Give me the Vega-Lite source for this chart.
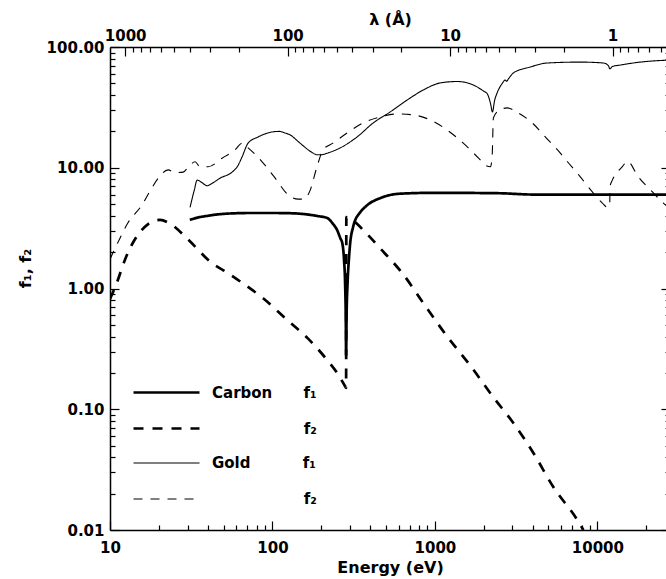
{
  "$schema": "https://vega.github.io/schema/vega-lite/v6.json",
  "autosize": {"type": "none"},
  "padding": {"left": 110, "top": 47, "right": 0, "bottom": 49},
  "width": 560,
  "height": 483,
  "background": "white",
  "datasets": {
    "curves": [
      {"series": "Carbon f1", "energy": 31, "f": 3.7},
      {"series": "Carbon f1", "energy": 35, "f": 3.88},
      {"series": "Carbon f1", "energy": 40, "f": 4.0},
      {"series": "Carbon f1", "energy": 44, "f": 4.08},
      {"series": "Carbon f1", "energy": 50, "f": 4.15},
      {"series": "Carbon f1", "energy": 60, "f": 4.2},
      {"series": "Carbon f1", "energy": 73, "f": 4.22},
      {"series": "Carbon f1", "energy": 100, "f": 4.22},
      {"series": "Carbon f1", "energy": 130, "f": 4.2},
      {"series": "Carbon f1", "energy": 160, "f": 4.12},
      {"series": "Carbon f1", "energy": 190, "f": 3.98},
      {"series": "Carbon f1", "energy": 217, "f": 3.84},
      {"series": "Carbon f1", "energy": 235, "f": 3.45},
      {"series": "Carbon f1", "energy": 250, "f": 3.05},
      {"series": "Carbon f1", "energy": 262, "f": 2.6},
      {"series": "Carbon f1", "energy": 269, "f": 2.38},
      {"series": "Carbon f1", "energy": 276, "f": 1.7},
      {"series": "Carbon f1", "energy": 280, "f": 1.11},
      {"series": "Carbon f1", "energy": 283, "f": 0.5},
      {"series": "Carbon f1", "energy": 284, "f": 0.28},
      {"series": "Carbon f1", "energy": 286, "f": 0.6},
      {"series": "Carbon f1", "energy": 290, "f": 1.11},
      {"series": "Carbon f1", "energy": 296, "f": 1.8},
      {"series": "Carbon f1", "energy": 301, "f": 2.38},
      {"series": "Carbon f1", "energy": 313, "f": 3.2},
      {"series": "Carbon f1", "energy": 325, "f": 3.75},
      {"series": "Carbon f1", "energy": 337, "f": 4.06},
      {"series": "Carbon f1", "energy": 383, "f": 4.9},
      {"series": "Carbon f1", "energy": 460, "f": 5.6},
      {"series": "Carbon f1", "energy": 612, "f": 6.1},
      {"series": "Carbon f1", "energy": 1000, "f": 6.2},
      {"series": "Carbon f1", "energy": 2500, "f": 6.15},
      {"series": "Carbon f1", "energy": 4000, "f": 6.0},
      {"series": "Carbon f1", "energy": 10000, "f": 6.0},
      {"series": "Carbon f1", "energy": 28000, "f": 6.0},

      {"series": "Carbon f2", "energy": 10, "f": 0.82},
      {"series": "Carbon f2", "energy": 11, "f": 1.11},
      {"series": "Carbon f2", "energy": 12.4, "f": 1.75},
      {"series": "Carbon f2", "energy": 14.9, "f": 2.8},
      {"series": "Carbon f2", "energy": 17.1, "f": 3.4},
      {"series": "Carbon f2", "energy": 20.3, "f": 3.7},
      {"series": "Carbon f2", "energy": 23.4, "f": 3.45},
      {"series": "Carbon f2", "energy": 30.2, "f": 2.55},
      {"series": "Carbon f2", "energy": 42.5, "f": 1.62},
      {"series": "Carbon f2", "energy": 53.3, "f": 1.34},
      {"series": "Carbon f2", "energy": 67.9, "f": 1.07},
      {"series": "Carbon f2", "energy": 87.6, "f": 0.83},
      {"series": "Carbon f2", "energy": 123, "f": 0.55},
      {"series": "Carbon f2", "energy": 164, "f": 0.39},
      {"series": "Carbon f2", "energy": 217, "f": 0.256},
      {"series": "Carbon f2", "energy": 250, "f": 0.2},
      {"series": "Carbon f2", "energy": 280, "f": 0.155},
      {"series": "Carbon f2", "energy": 284, "f": 0.15},
      {"series": "Carbon f2", "energy": 285, "f": 3.9},
      {"series": "Carbon f2", "energy": 301, "f": 3.8},
      {"series": "Carbon f2", "energy": 330, "f": 3.45},
      {"series": "Carbon f2", "energy": 362, "f": 3.05},
      {"series": "Carbon f2", "energy": 400, "f": 2.65},
      {"series": "Carbon f2", "energy": 460, "f": 2.15},
      {"series": "Carbon f2", "energy": 531, "f": 1.75},
      {"series": "Carbon f2", "energy": 630, "f": 1.34},
      {"series": "Carbon f2", "energy": 847, "f": 0.76},
      {"series": "Carbon f2", "energy": 1191, "f": 0.4},
      {"series": "Carbon f2", "energy": 1651, "f": 0.23},
      {"series": "Carbon f2", "energy": 2287, "f": 0.126},
      {"series": "Carbon f2", "energy": 3040, "f": 0.077},
      {"series": "Carbon f2", "energy": 4040, "f": 0.0434},
      {"series": "Carbon f2", "energy": 5360, "f": 0.0227},
      {"series": "Carbon f2", "energy": 7530, "f": 0.0121},
      {"series": "Carbon f2", "energy": 8200, "f": 0.01},

      {"series": "Gold f1", "energy": 31.1, "f": 4.7},
      {"series": "Gold f1", "energy": 33, "f": 6.5},
      {"series": "Gold f1", "energy": 34.4, "f": 7.9},
      {"series": "Gold f1", "energy": 36.5, "f": 7.6},
      {"series": "Gold f1", "energy": 39.6, "f": 7.1},
      {"series": "Gold f1", "energy": 43, "f": 7.5},
      {"series": "Gold f1", "energy": 47.6, "f": 8.2},
      {"series": "Gold f1", "energy": 56.4, "f": 9.2},
      {"series": "Gold f1", "energy": 61, "f": 10.3},
      {"series": "Gold f1", "energy": 65, "f": 12.3},
      {"series": "Gold f1", "energy": 70.8, "f": 16},
      {"series": "Gold f1", "energy": 81.6, "f": 18},
      {"series": "Gold f1", "energy": 100, "f": 19.8},
      {"series": "Gold f1", "energy": 110, "f": 20},
      {"series": "Gold f1", "energy": 119.7, "f": 19.4},
      {"series": "Gold f1", "energy": 128.5, "f": 18.7},
      {"series": "Gold f1", "energy": 144, "f": 16.5},
      {"series": "Gold f1", "energy": 154.6, "f": 15.2},
      {"series": "Gold f1", "energy": 175, "f": 13.4},
      {"series": "Gold f1", "energy": 188, "f": 12.8},
      {"series": "Gold f1", "energy": 200, "f": 12.8},
      {"series": "Gold f1", "energy": 217, "f": 13.2},
      {"series": "Gold f1", "energy": 261, "f": 14.6},
      {"series": "Gold f1", "energy": 332, "f": 18},
      {"series": "Gold f1", "energy": 417, "f": 23.5},
      {"series": "Gold f1", "energy": 531, "f": 29},
      {"series": "Gold f1", "energy": 675, "f": 36.4},
      {"series": "Gold f1", "energy": 847, "f": 44},
      {"series": "Gold f1", "energy": 1079, "f": 50.4},
      {"series": "Gold f1", "energy": 1373, "f": 51.8},
      {"series": "Gold f1", "energy": 1722, "f": 48.5},
      {"series": "Gold f1", "energy": 2000, "f": 43},
      {"series": "Gold f1", "energy": 2100, "f": 41},
      {"series": "Gold f1", "energy": 2200, "f": 34},
      {"series": "Gold f1", "energy": 2260, "f": 29},
      {"series": "Gold f1", "energy": 2330, "f": 36},
      {"series": "Gold f1", "energy": 2421, "f": 42},
      {"series": "Gold f1", "energy": 2600, "f": 50},
      {"series": "Gold f1", "energy": 2711, "f": 53.3},
      {"series": "Gold f1", "energy": 2760, "f": 52},
      {"series": "Gold f1", "energy": 2850, "f": 55},
      {"series": "Gold f1", "energy": 3038, "f": 60.9},
      {"series": "Gold f1", "energy": 3864, "f": 68.3},
      {"series": "Gold f1", "energy": 4920, "f": 73.7},
      {"series": "Gold f1", "energy": 7853, "f": 75},
      {"series": "Gold f1", "energy": 10890, "f": 73.7},
      {"series": "Gold f1", "energy": 11700, "f": 70},
      {"series": "Gold f1", "energy": 11919, "f": 66},
      {"series": "Gold f1", "energy": 12400, "f": 69},
      {"series": "Gold f1", "energy": 13860, "f": 70.9},
      {"series": "Gold f1", "energy": 18400, "f": 75},
      {"series": "Gold f1", "energy": 28000, "f": 78},

      {"series": "Gold f2", "energy": 10, "f": 1.75},
      {"series": "Gold f2", "energy": 11.5, "f": 2.6},
      {"series": "Gold f2", "energy": 12.9, "f": 3.5},
      {"series": "Gold f2", "energy": 15.7, "f": 4.9},
      {"series": "Gold f2", "energy": 17.5, "f": 6.3},
      {"series": "Gold f2", "energy": 19.8, "f": 8.2},
      {"series": "Gold f2", "energy": 22.8, "f": 9.6},
      {"series": "Gold f2", "energy": 25.1, "f": 9.1},
      {"series": "Gold f2", "energy": 28.2, "f": 9.2},
      {"series": "Gold f2", "energy": 31, "f": 10.5},
      {"series": "Gold f2", "energy": 33.4, "f": 11.2},
      {"series": "Gold f2", "energy": 35.8, "f": 10.2},
      {"series": "Gold f2", "energy": 40.2, "f": 10.2},
      {"series": "Gold f2", "energy": 49, "f": 12},
      {"series": "Gold f2", "energy": 58.9, "f": 14.1},
      {"series": "Gold f2", "energy": 65, "f": 16},
      {"series": "Gold f2", "energy": 70.8, "f": 14.6},
      {"series": "Gold f2", "energy": 86.4, "f": 11.2},
      {"series": "Gold f2", "energy": 104, "f": 8.2},
      {"series": "Gold f2", "energy": 125, "f": 5.96},
      {"series": "Gold f2", "energy": 144, "f": 5.5},
      {"series": "Gold f2", "energy": 155, "f": 5.5},
      {"series": "Gold f2", "energy": 170.6, "f": 6.5},
      {"series": "Gold f2", "energy": 188, "f": 10.2},
      {"series": "Gold f2", "energy": 205, "f": 14.1},
      {"series": "Gold f2", "energy": 236, "f": 16},
      {"series": "Gold f2", "energy": 288, "f": 19.4},
      {"series": "Gold f2", "energy": 362, "f": 23.5},
      {"series": "Gold f2", "energy": 460, "f": 26.3},
      {"series": "Gold f2", "energy": 586, "f": 27.9},
      {"series": "Gold f2", "energy": 736, "f": 27.4},
      {"series": "Gold f2", "energy": 936, "f": 24.9},
      {"series": "Gold f2", "energy": 1191, "f": 20.5},
      {"series": "Gold f2", "energy": 1495, "f": 16},
      {"series": "Gold f2", "energy": 1902, "f": 11.6},
      {"series": "Gold f2", "energy": 2042, "f": 10.5},
      {"series": "Gold f2", "energy": 2200, "f": 10.2},
      {"series": "Gold f2", "energy": 2255, "f": 13.2},
      {"series": "Gold f2", "energy": 2290, "f": 25.8},
      {"series": "Gold f2", "energy": 2500, "f": 30},
      {"series": "Gold f2", "energy": 2790, "f": 31.3},
      {"series": "Gold f2", "energy": 3262, "f": 28.4},
      {"series": "Gold f2", "energy": 3978, "f": 23.5},
      {"series": "Gold f2", "energy": 4783, "f": 18},
      {"series": "Gold f2", "energy": 5670, "f": 14.1},
      {"series": "Gold f2", "energy": 6628, "f": 11},
      {"series": "Gold f2", "energy": 7857, "f": 8.4},
      {"series": "Gold f2", "energy": 9316, "f": 6.3},
      {"series": "Gold f2", "energy": 10740, "f": 5.1},
      {"series": "Gold f2", "energy": 11527, "f": 4.7},
      {"series": "Gold f2", "energy": 11919, "f": 4.8},
      {"series": "Gold f2", "energy": 11960, "f": 7.0},
      {"series": "Gold f2", "energy": 12370, "f": 7.9},
      {"series": "Gold f2", "energy": 13280, "f": 9.2},
      {"series": "Gold f2", "energy": 14250, "f": 10.2},
      {"series": "Gold f2", "energy": 15300, "f": 11.3},
      {"series": "Gold f2", "energy": 17890, "f": 8.4},
      {"series": "Gold f2", "energy": 21820, "f": 6.3},
      {"series": "Gold f2", "energy": 25510, "f": 5.1},
      {"series": "Gold f2", "energy": 28000, "f": 4.6}
    ]
  },
  "data": {"name": "curves"},
  "layer": [
    {
      "transform": [{"filter": "indexof(datum.series, 'Carbon') == 0"}],
      "mark": {"type": "line", "color": "black", "strokeWidth": 2.7, "interpolate": "monotone", "clip": true},
      "encoding": {
        "x": {
          "field": "energy", "type": "quantitative",
          "scale": {"type": "log", "domain": [10, 28000], "nice": false},
          "axis": {
            "orient": "bottom", "title": "Energy (eV)",
            "values": [10,20,30,40,50,60,70,80,90,100,200,300,400,500,600,700,800,900,1000,2000,3000,4000,5000,6000,7000,8000,9000,10000,20000],
            "labelExpr": "abs(log(datum.value)/LN10 - round(log(datum.value)/LN10)) < 0.001 ? format(datum.value, 'd') : ''",
            "tickSize": {"condition": {"test": "abs(log(datum.value)/LN10 - round(log(datum.value)/LN10)) < 0.001", "value": -9}, "value": -5},
            "labelPadding": 31.5, "labelBaseline": "alphabetic",
            "titleY": 42, "titleBaseline": "alphabetic", "titleFontSize": 16
          }
        },
        "y": {
          "field": "f", "type": "quantitative",
          "scale": {"type": "log", "domain": [0.01, 100], "nice": false},
          "axis": {
            "orient": "left", "title": "f₁, f₂",
            "values": [0.01,0.02,0.03,0.04,0.05,0.06,0.07,0.08,0.09,0.1,0.2,0.3,0.4,0.5,0.6,0.7,0.8,0.9,1,2,3,4,5,6,7,8,9,10,20,30,40,50,60,70,80,90,100],
            "labelExpr": "abs(log(datum.value)/LN10 - round(log(datum.value)/LN10)) < 0.001 ? format(datum.value, '.2f') : ''",
            "tickSize": {"condition": {"test": "abs(log(datum.value)/LN10 - round(log(datum.value)/LN10)) < 0.001", "value": -9}, "value": -5},
            "labelPadding": 15, "labelBaseline": "middle",
            "titleX": -85, "titleY": 221, "titleAngle": -90, "titleAlign": "center", "titleBaseline": "middle", "titleFontSize": 16
          }
        },
        "strokeDash": {
          "field": "series", "type": "nominal",
          "scale": {"domain": ["Carbon f1", "Carbon f2"], "range": [[1, 0], [10, 9]]},
          "legend": {
            "title": null, "orient": "none", "legendX": 49, "legendY": 338,
            "symbolStrokeWidth": 2.7,
            "labelExpr": "datum.label == 'Carbon f1' ? 'Carbon\u00a0\u00a0\u00a0\u00a0\u00a0\u00a0f\u2081' : '\u200b\u00a0\u00a0\u00a0\u00a0\u00a0\u00a0\u00a0\u00a0\u00a0\u00a0\u00a0\u00a0\u00a0\u00a0\u00a0\u00a0\u00a0\u2009f\u2082'"
          }
        }
      }
    },
    {
      "transform": [{"filter": "indexof(datum.series, 'Gold') == 0"}],
      "mark": {"type": "line", "color": "black", "strokeWidth": 1.1, "interpolate": "monotone", "clip": true},
      "encoding": {
        "x": {
          "field": "energy", "type": "quantitative",
          "scale": {"type": "log", "domain": [10, 28000], "nice": false},
          "axis": {
            "orient": "top", "title": "λ (Å)",
            "values": [12.3984,13.776,15.498,17.712,20.664,24.7968,30.996,41.328,61.992,123.984,137.76,154.98,177.12,206.64,247.968,309.96,413.28,619.92,1239.84,1377.6,1549.8,1771.2,2066.4,2479.68,3099.6,4132.8,6199.2,12398.4,13776,15498,17712,20664,24796.8],
            "labelExpr": "abs(log(12398.4/datum.value)/LN10 - round(log(12398.4/datum.value)/LN10)) < 0.001 ? format(12398.4/datum.value, '.0f') : ''",
            "tickSize": {"condition": {"test": "abs(log(12398.4/datum.value)/LN10 - round(log(12398.4/datum.value)/LN10)) < 0.001", "value": -9}, "value": -5},
            "labelPadding": 16, "labelBaseline": "alphabetic",
            "titleY": -23, "titleBaseline": "alphabetic", "titleFontSize": 16
          }
        },
        "y": {
          "field": "f", "type": "quantitative",
          "scale": {"type": "log", "domain": [0.01, 100], "nice": false},
          "axis": {
            "orient": "right", "title": null, "labels": false,
            "values": [0.01,0.02,0.03,0.04,0.05,0.06,0.07,0.08,0.09,0.1,0.2,0.3,0.4,0.5,0.6,0.7,0.8,0.9,1,2,3,4,5,6,7,8,9,10,20,30,40,50,60,70,80,90,100],
            "tickSize": {"condition": {"test": "abs(log(datum.value)/LN10 - round(log(datum.value)/LN10)) < 0.001", "value": -9}, "value": -5}
          }
        },
        "strokeDash": {
          "field": "series", "type": "nominal",
          "scale": {"domain": ["Gold f1", "Gold f2"], "range": [[1, 0], [9, 8]]},
          "legend": {
            "title": null, "orient": "none", "legendX": 49, "legendY": 408.5,
            "symbolStrokeWidth": 1.1,
            "labelExpr": "datum.label == 'Gold f1' ? 'Gold\u00a0\u00a0\u00a0\u00a0\u00a0\u00a0\u00a0\u00a0\u00a0\u00a0f\u2081' : '\u200b\u00a0\u00a0\u00a0\u00a0\u00a0\u00a0\u00a0\u00a0\u00a0\u00a0\u00a0\u00a0\u00a0\u00a0\u00a0\u00a0\u00a0\u2009f\u2082'"
          }
        }
      }
    }
  ],
  "resolve": {
    "axis": {"x": "independent", "y": "independent"},
    "scale": {"strokeDash": "independent"},
    "legend": {"strokeDash": "independent"}
  },
  "config": {
    "view": {"stroke": null},
    "font": "DejaVu Sans",
    "axis": {
      "grid": false,
      "domainColor": "black", "domainWidth": 1.5,
      "tickColor": "black", "tickWidth": 1.2,
      "labelColor": "black", "labelFont": "DejaVu Sans", "labelFontSize": 15, "labelFontWeight": "bold",
      "labelOverlap": false, "labelFlush": false, "labelBound": false,
      "titleColor": "black", "titleFont": "DejaVu Sans", "titleFontWeight": "bold"
    },
    "legend": {
      "padding": 0,
      "symbolType": "M-6,0H6",
      "symbolSize": 121,
      "symbolStrokeColor": "black",
      "labelColor": "black", "labelFont": "DejaVu Sans", "labelFontSize": 15, "labelFontWeight": "bold",
      "labelOffset": 38,
      "rowPadding": 20,
      "labelLimit": 400
    }
  }
}
